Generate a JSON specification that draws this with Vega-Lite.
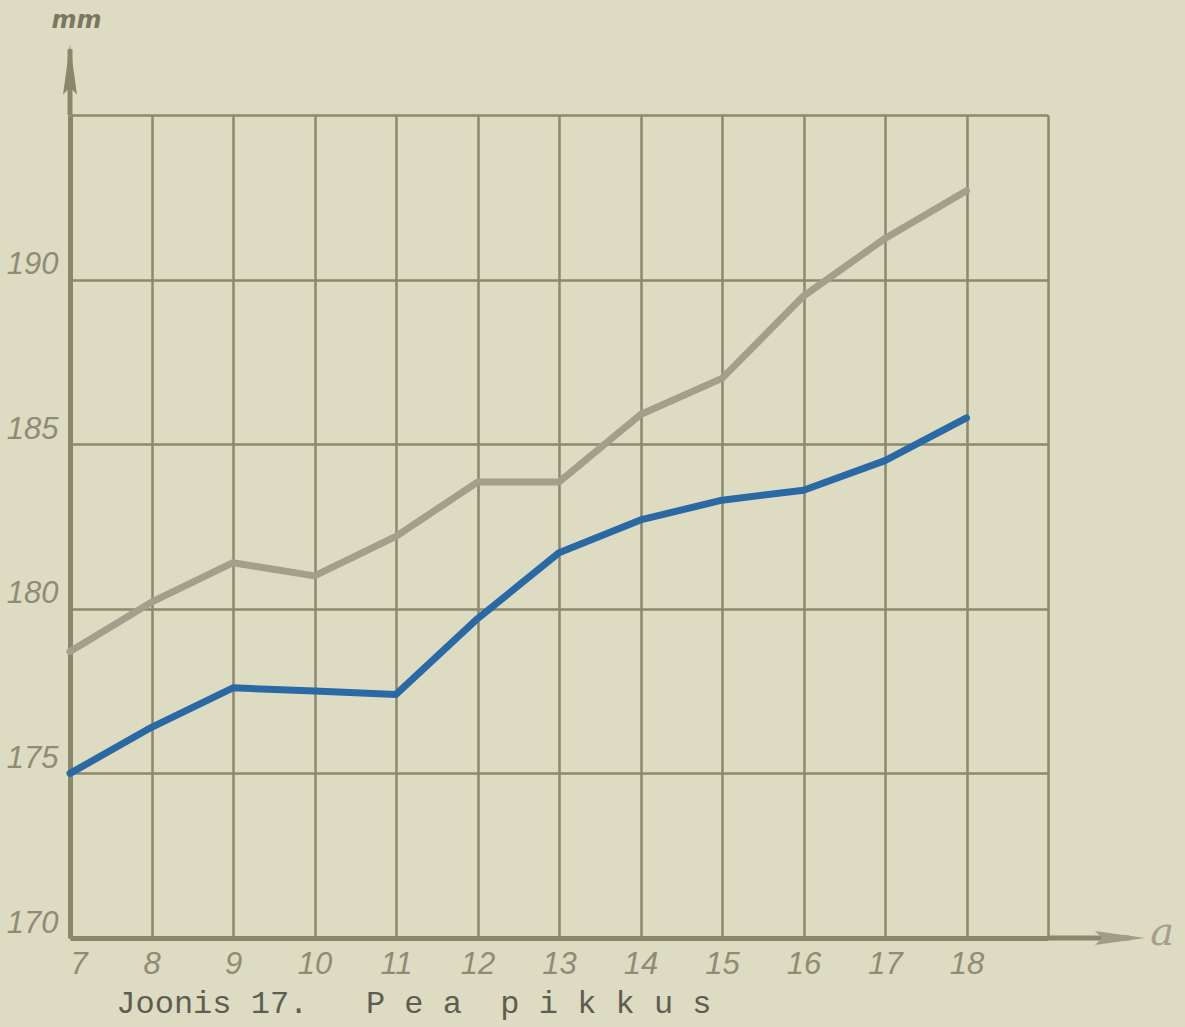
{
  "$schema": "https://vega.github.io/schema/vega-lite/v6.json",
  "autosize": "none",
  "width": 978,
  "height": 823,
  "padding": {"left": 70, "top": 115, "right": 137, "bottom": 89},
  "background": "#dddcc2",
  "config": {
    "view": {"stroke": null},
    "axis": {"ticks": false, "grid": true, "gridColor": "#8c896d", "gridWidth": 2.5, "domainColor": "#8a876c", "domainWidth": 5,
      "labelFont": "Liberation Sans", "labelFontStyle": "italic", "labelFontSize": 31, "labelColor": "#8f8c74", "title": null}
  },
  "title": {"text": "Joonis 17.\u00a0\u00a0\u00a0P\u00a0e\u00a0a\u00a0\u00a0p\u00a0i\u00a0k\u00a0k\u00a0u\u00a0s", "orient": "bottom", "anchor": "start", "dx": 110, "offset": 9, "font": "Liberation Mono, DejaVu Sans Mono, monospace", "fontSize": 32, "fontWeight": "normal", "color": "#5f5d52"},
  "datasets": {
    "series": [
      {"age": 7, "length": 178.7, "group": "grey"},
      {"age": 8, "length": 180.2, "group": "grey"},
      {"age": 9, "length": 181.4, "group": "grey"},
      {"age": 10, "length": 181.0, "group": "grey"},
      {"age": 11, "length": 182.2, "group": "grey"},
      {"age": 12, "length": 183.85, "group": "grey"},
      {"age": 13, "length": 183.85, "group": "grey"},
      {"age": 14, "length": 185.9, "group": "grey"},
      {"age": 15, "length": 187.0, "group": "grey"},
      {"age": 16, "length": 189.5, "group": "grey"},
      {"age": 17, "length": 191.25, "group": "grey"},
      {"age": 18, "length": 192.7, "group": "grey"},
      {"age": 7, "length": 175.0, "group": "blue"},
      {"age": 8, "length": 176.4, "group": "blue"},
      {"age": 9, "length": 177.6, "group": "blue"},
      {"age": 10, "length": 177.5, "group": "blue"},
      {"age": 11, "length": 177.4, "group": "blue"},
      {"age": 12, "length": 179.7, "group": "blue"},
      {"age": 13, "length": 181.7, "group": "blue"},
      {"age": 14, "length": 182.7, "group": "blue"},
      {"age": 15, "length": 183.3, "group": "blue"},
      {"age": 16, "length": 183.6, "group": "blue"},
      {"age": 17, "length": 184.5, "group": "blue"},
      {"age": 18, "length": 185.8, "group": "blue"}
    ],
    "one": [{}]
  },
  "layer": [
    {
      "data": {"name": "series"},
      "mark": {"type": "line", "strokeWidth": 7, "strokeCap": "round", "strokeJoin": "round"},
      "encoding": {
        "x": {"field": "age", "type": "quantitative", "scale": {"domain": [7, 19], "nice": false, "zero": false},
          "axis": {"values": [7, 8, 9, 10, 11, 12, 13, 14, 15, 16, 17, 18, 19], "format": "d", "labelExpr": "datum.value == 19 ? '' : datum.label", "labelPadding": 11}},
        "y": {"field": "length", "type": "quantitative", "scale": {"domain": [170, 195], "nice": false, "zero": false},
          "axis": {"values": [170, 175, 180, 185, 190, 195], "format": "d", "labelExpr": "datum.value == 195 ? '' : datum.label", "labelPadding": 12, "labelOffset": -15}},
        "color": {"field": "group", "type": "nominal", "scale": {"domain": ["grey", "blue"], "range": ["#a29f8a", "#2a69a3"]}, "legend": null},
        "detail": {"field": "group"}
      }
    },
    {
      "data": {"name": "one"},
      "mark": {"type": "rule", "strokeWidth": 5, "color": "#8a876c"},
      "encoding": {"x": {"datum": 7}, "y": {"datum": 195}, "y2": {"datum": 197.0}}
    },
    {
      "data": {"name": "one"},
      "mark": {"type": "point", "filled": true, "shape": "M0,-1L0.25,0.8L0,0.55L-0.25,0.8Z", "size": 3100, "color": "#8a876c", "opacity": 1},
      "encoding": {"x": {"datum": 7}, "y": {"datum": 196.3}}
    },
    {
      "data": {"name": "one"},
      "mark": {"type": "rule", "strokeWidth": 5, "color": "#8a876c"},
      "encoding": {"x": {"datum": 19}, "x2": {"datum": 20.0}, "y": {"datum": 170}}
    },
    {
      "data": {"name": "one"},
      "mark": {"type": "point", "filled": true, "shape": "M1,0L-0.8,0.25L-0.55,0L-0.8,-0.25Z", "size": 3100, "color": "#a09d87", "opacity": 1},
      "encoding": {"x": {"datum": 19.85}, "y": {"datum": 170}}
    },
    {
      "data": {"name": "one"},
      "mark": {"type": "text", "text": "mm", "font": "DejaVu Sans", "fontStyle": "italic", "fontWeight": "bold", "fontSize": 24, "color": "#7a7862", "align": "center", "baseline": "middle"},
      "encoding": {"x": {"datum": 7.08}, "y": {"datum": 197.85}}
    },
    {
      "data": {"name": "one"},
      "mark": {"type": "text", "text": "a", "font": "DejaVu Serif", "fontStyle": "italic", "fontSize": 40, "color": "#a3a08a", "align": "center", "baseline": "middle"},
      "encoding": {"x": {"datum": 20.4}, "y": {"datum": 170.15}}
    }
  ]
}
